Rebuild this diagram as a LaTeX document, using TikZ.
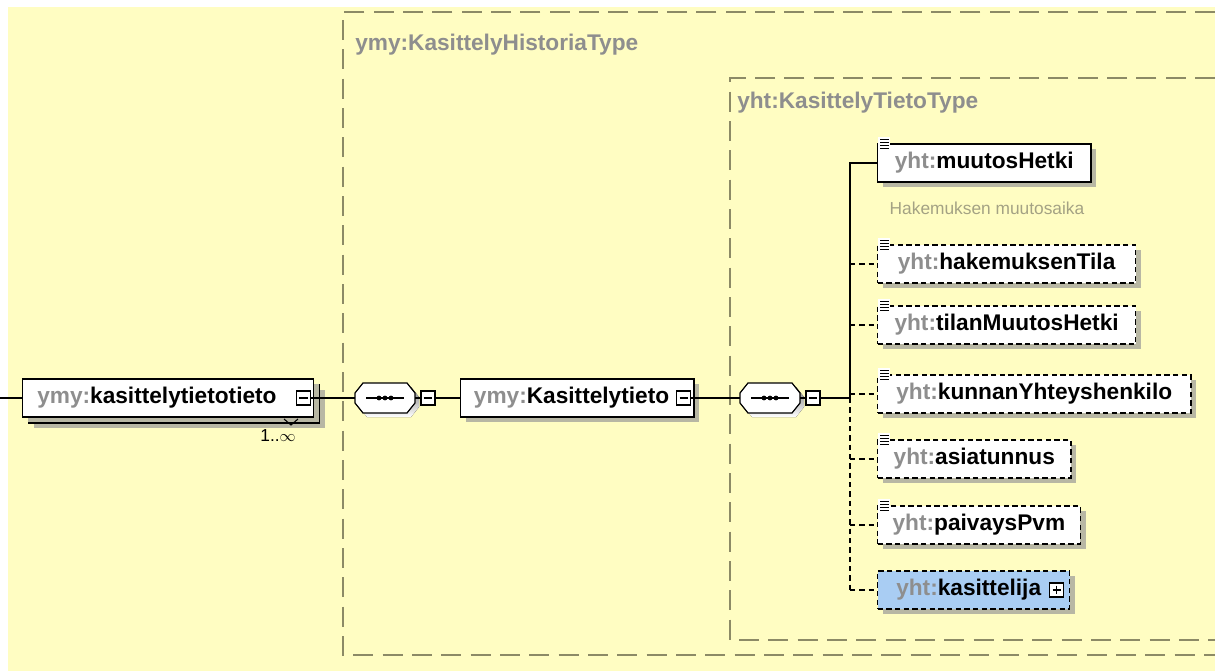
\documentclass[tikz,border=0pt]{standalone}
\usepackage{fontspec}
\setmainfont{Liberation Sans}
\usetikzlibrary{shadows,calc}
\definecolor{paper}{HTML}{FFFDC2}
\definecolor{frame}{HTML}{8C8A66}
\definecolor{pfxgray}{HTML}{8E8E8E}
\definecolor{notegray}{HTML}{A4A284}
\definecolor{shade}{HTML}{B8B7A4}
\definecolor{refblue}{HTML}{A9CDF3}
\newcommand{\pfx}[1]{\textcolor{pfxgray}{#1}}
\begin{document}
\begin{tikzpicture}[x=0.75pt,y=-0.75pt,
  font=\fontsize{17}{20}\selectfont\bfseries,
  typebox/.style={frame,line width=0.9pt,dash pattern=on 15pt off 7pt},
  typelabel/.style={anchor=west,text=pfxgray,inner sep=0pt},
  elem/.style={draw,line width=0.9pt,fill=white,anchor=west,minimum height=28.5pt,inner xsep=5pt,
    drop shadow={shadow xshift=4pt,shadow yshift=-4pt,fill=shade,opacity=1}},
  optelem/.style={elem,dash pattern=on 4pt off 2.5pt},
  seqspot/.style={minimum width=45pt,minimum height=22.5pt,inner sep=0pt},
  minusbox/.style={draw,line width=0.8pt,fill=white,minimum size=10.5pt,inner sep=0pt,
    path picture={\draw[line width=0.8pt] ([xshift=2pt]path picture bounding box.west) -- ([xshift=-2pt]path picture bounding box.east);}},
  plusbox/.style={minusbox,
    path picture={\draw[line width=0.8pt] ([xshift=2pt]path picture bounding box.west) -- ([xshift=-2pt]path picture bounding box.east);
                  \draw[line width=0.8pt] ([yshift=-2pt]path picture bounding box.north) -- ([yshift=2pt]path picture bounding box.south);}},
  link/.style={line width=0.9pt},
  optlink/.style={line width=0.9pt,dash pattern=on 4pt off 3pt}]

  % canvas
  \fill[white] (0,0) rectangle (1215,671);
  \fill[paper] (8,7) rectangle (1215,671);
  \useasboundingbox (0,0) rectangle (1215,671);

  % type frames
  \draw[typebox] (1215,12) -- (343,12) -- (343,655) -- (1215,655);
  \node[typelabel] (histtype) at (355,45) {ymy:KasittelyHistoriaType};
  \draw[typebox] (1215,78) -- (730,78) -- (730,640) -- (1215,640);
  \node[typelabel] (tietotype) at (737,103) {yht:KasittelyTietoType};

  % root element, repeated
  \node[elem,minimum width=218pt] (rootback) at (28,404) {};
  \node[elem,text width=208pt,align=left] (root) at (22,398) {\hspace{6pt}\pfx{ymy:}kasittelytietotieto};
  \node[minusbox] (rootminus) at ([xshift=-8pt]root.east) {};
  \draw[line width=0.8pt] (284,419) -- (291,425) -- (298,419);
  \node[font=\fontsize{13}{15}\selectfont,anchor=north] (rootocc) at (278,425) {1..$\infty$};

  % first sequence
  \node[seqspot] (seqA) at (385,398) {};
  \node[minusbox] (seqAminus) at (428,398) {};
  \node[elem,text width=165pt,align=left] (tieto) at (460,398) {\hspace{5pt}\pfx{ymy:}Kasittelytieto};
  \node[minusbox] (tietominus) at ([xshift=-8pt]tieto.east) {};

  % second sequence
  \node[seqspot] (seqB) at (770,398) {};
  \node[minusbox] (seqBminus) at (813,398) {};
  \coordinate (spine) at (850,398);

  % child elements
  \node[elem,minimum width=160pt] (muutos) at (877,163) {\pfx{yht:}muutosHetki};
  \node[anchor=west,font=\fontsize{13}{15}\selectfont,text=notegray] (muutosnote) at (885,208) {Hakemuksen muutosaika};
  \foreach \nm/\yy/\ww/\lbl in {hak/264/193.5/hakemuksenTila,tila/325/193.5/tilanMuutosHetki,
      kunta/394/235/kunnanYhteyshenkilo,asia/459/145/asiatunnus,pvm/525/152/paivaysPvm}
    \node[optelem,minimum width=\ww pt] (\nm) at (877,\yy) {\pfx{yht:}\lbl};
  \node[optelem,fill=refblue,text width=134pt,align=left] (kasittelija) at (877,590) {\hspace{9pt}\pfx{yht:}kasittelija};
  \node[plusbox] (kasplus) at ([xshift=-10pt]kasittelija.east) {};

  % document marks
  \foreach \nm in {muutos,hak,tila,kunta,asia,pvm} {
    \fill[white] ([shift={(1,-6)}]\nm.north west) rectangle ([shift={(13,8)}]\nm.north west);
    \foreach \dy in {-4,-1,2,5}
      \draw[line width=0.75pt] ([shift={(3,\dy)}]\nm.north west) -- ([shift={(12,\dy)}]\nm.north west);
  }

  % sequence compositors
  \foreach \sq in {seqA,seqB} {
    \fill[shade] ($(\sq.center)+(-26,-1)$) -- ++(8,-10) -- ++(44,0) -- ++(8,10) -- ++(0,10)
      -- ++(-8,10) -- ++(-44,0) -- ++(-8,-10) -- cycle;
    \draw[line width=0.9pt,fill=white] ($(\sq.center)+(-30,-5)$) -- ++(8,-10) -- ++(44,0) -- ++(8,10) -- ++(0,10)
      -- ++(-8,10) -- ++(-44,0) -- ++(-8,-10) -- cycle;
    \draw[line width=1pt] ([xshift=-14pt]\sq.center) -- ([xshift=14pt]\sq.center);
    \foreach \dx in {-6,0,6}
      \fill ([xshift=\dx*0.75pt]\sq.center) circle[radius=1.8pt];
  }

  % connectors
  \draw[link] (0,398) -- (root.west);
  \draw[link] (rootminus.east) -- (seqA.west);
  \draw[link] (seqA.east) -- (seqAminus.west);
  \draw[link] (seqAminus.east) -- (tieto.west);
  \draw[link] (tietominus.east) -- (seqB.west);
  \draw[link] (seqB.east) -- (seqBminus.west);
  \draw[link] (seqBminus.east) -- (spine);
  \draw[link] (spine) -- (spine |- muutos.west) -- (muutos.west);
  \draw[optlink] (spine) -- (spine |- kasittelija.west);
  \foreach \nm in {hak,tila,kunta,asia,pvm,kasittelija}
    \draw[optlink] (spine |- \nm.west) -- (\nm.west);
\end{tikzpicture}
\end{document}
